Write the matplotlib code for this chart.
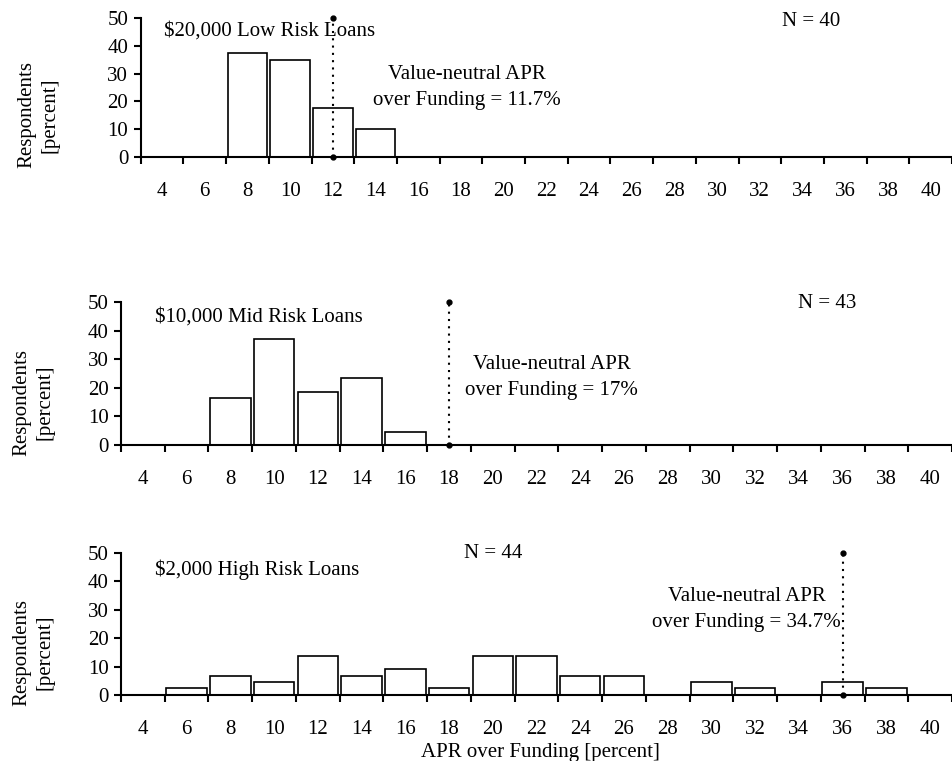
import matplotlib
matplotlib.use("Agg")
import matplotlib.pyplot as plt
import numpy as np

plt.rcParams['font.family'] = ['Liberation Serif', 'DejaVu Serif']

# bin centers (APR over funding, percent)
bins = [4, 6, 8, 10, 12, 14, 16, 18, 20, 22, 24, 26, 28, 30, 32, 34, 36, 38, 40]

# respondents [percent] per bin
low_risk = [0, 0, 37.5, 35.0, 17.5, 10.0, 0, 0, 0, 0, 0, 0, 0, 0, 0, 0, 0, 0, 0]
mid_risk = [0, 0, 16.3, 37.2, 18.6, 23.3, 4.7, 0, 0, 0, 0, 0, 0, 0, 0, 0, 0, 0, 0]
high_risk = [0, 2.3, 6.8, 4.5, 13.6, 6.8, 9.1, 2.3, 13.6, 13.6, 6.8, 6.8, 0, 4.5, 2.3, 0, 4.5, 2.3, 0]

titles = ["$20,000 Low Risk Loans", "$10,000 Mid Risk Loans", "$2,000 High Risk Loans"]
n_labels = ["N = 40", "N = 43", "N = 44"]
neutral_text = ["Value-neutral APR\nover Funding = 11.7%",
                "Value-neutral APR\nover Funding = 17%",
                "Value-neutral APR\nover Funding = 34.7%"]
neutral_bin = [12, 18, 36]

fig = plt.figure(figsize=(9.52, 7.61), dpi=100)

# axes rectangles [left, bottom, width, height]
rects = [[0.1478, 0.7937, 0.8522, 0.1826],
         [0.1271, 0.4152, 0.8729, 0.1880],
         [0.1271, 0.0867, 0.8729, 0.1866]]
xmax = [40.73, 40.6, 40.6]
# text placement (data coords)
title_pos = [(4.08, 45.3), (4.54, 44.8), (4.54, 44.2)]
n_pos = [(34.4, 48.6), (35.3, 49.3), (20.0, 50)]
vn_pos = [(18.3, 25.0), (22.7, 23.6), (31.6, 30.2)]
# y label centers in pixels
ylab_pos = [(38, 115), (33, 402), (33, 652)]

data = [low_risk, mid_risk, high_risk]
fs = 15

for i in range(3):
    ax = fig.add_axes(rects[i])
    ax.bar(bins, data[i], width=1.85, color='white', edgecolor='black', linewidth=1.2)
    ax.set_xlim(3, xmax[i])
    ax.set_ylim(0, 50)
    ax.spines['top'].set_visible(False)
    ax.spines['right'].set_visible(False)
    for s in ['left', 'bottom']:
        ax.spines[s].set_linewidth(1.5)
    ax.set_yticks([0, 10, 20, 30, 40, 50])
    ax.set_xticks(np.arange(3, 42, 2))
    ax.set_xticklabels([])
    ax.set_xticks(bins, minor=True)
    ax.set_xticklabels([str(b) for b in bins], minor=True)
    ax.tick_params(axis='x', which='major', direction='out', length=5, width=1.5)
    ax.tick_params(axis='x', which='minor', length=0, pad=18, labelsize=fs)
    ax.tick_params(axis='y', direction='out', length=5, width=1.5, pad=4, labelsize=fs)
    ax.patch.set_alpha(0)

    x = neutral_bin[i]
    ax.plot([x, x], [0, 50], linestyle=(0, (1, 2.5)), color='black', lw=1.5, clip_on=False)
    ax.plot([x, x], [0, 50], 'o', color='black', ms=3.5, clip_on=False)

    ax.text(title_pos[i][0], title_pos[i][1], titles[i], fontsize=fs, ha='left', va='center')
    ax.text(n_pos[i][0], n_pos[i][1], n_labels[i], fontsize=fs, ha='center', va='center')
    ax.text(vn_pos[i][0], vn_pos[i][1], neutral_text[i], fontsize=fs, ha='center', va='center',
            linespacing=1.5)

    fig.text(ylab_pos[i][0] / 952, 1 - ylab_pos[i][1] / 761, "Respondents\n[percent]",
             rotation=90, ha='center', va='center', fontsize=fs, linespacing=1.3)

fig.text(540 / 952, 1 - 743 / 761, "APR over Funding [percent]", ha='center', va='top', fontsize=fs)

fig.savefig("out.png", dpi=100)
